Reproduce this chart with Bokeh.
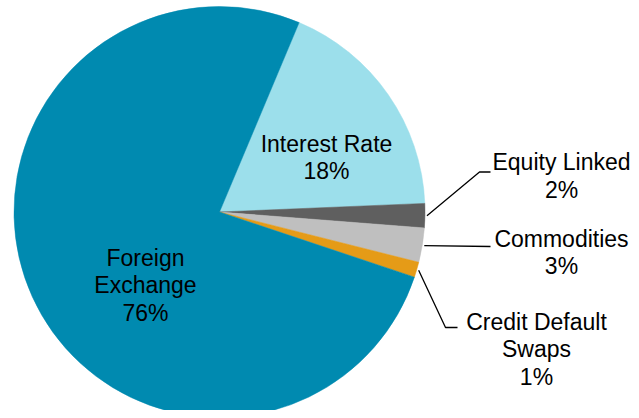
import math
from bokeh.plotting import figure
from bokeh.models import Range1d, ColumnDataSource
from bokeh.core.properties import value
from bokeh.embed import file_html
from bokeh.resources import INLINE

# ---- data ----
categories = ["Interest Rate", "Equity Linked", "Commodities", "Credit Default\nSwaps", "Foreign\nExchange"]
shares = [18.0, 1.9, 2.7, 1.2, 76.2]
colors = ["#9CDFEB", "#5F5F5F", "#BFBFBF", "#E59B17", "#008AB0"]

# ---- layout (pixel coordinates of the picture, y downward) ----
W, H = 631, 410
CX, CY, R = 219, 211.5, 205.5
START_DEG = 22.8  # clockwise from 12 o'clock, where first slice begins

def to_data_y(py):
    return 418 - py

p = figure(width=W, height=H, output_backend="svg", toolbar_location=None,
           x_range=Range1d(0, W), y_range=Range1d(418 - H, 418),
           min_border=0, outline_line_color=None)
p.axis.visible = False
p.grid.visible = False
p.background_fill_color = "white"
p.border_fill_color = "white"

total = sum(shares)
starts, ends, mids = [], [], []
theta = START_DEG
for v in shares:
    span = v / total * 360.0
    starts.append(theta)
    ends.append(theta + span)
    mids.append(theta + span / 2)
    theta += span

src = ColumnDataSource(dict(
    start=[math.radians(90 - s) for s in starts],
    end=[math.radians(90 - e) for e in ends],
    color=colors,
    cat=categories,
))
p.wedge(x=CX, y=to_data_y(CY), radius=R, start_angle="start", end_angle="end",
        direction="clock", fill_color="color", line_color="color", line_width=0.5,
        source=src)

pct = [f"{round(v / total * 100)}%" for v in shares]
labels = [c + "\n" + q for c, q in zip(categories, pct)]

# label block centres (picture coords)
label_pos = {
    0: (326, 157),
    1: (561, 175.5),
    2: (561, 252),
    3: (536, 349),
    4: (145, 285),
}
lx = [label_pos[i][0] for i in range(len(labels))]
ly = [to_data_y(label_pos[i][1]) for i in range(len(labels))]
p.text(x=lx, y=ly, text=labels, text_align="center", text_baseline="middle",
       text_font=value("Liberation Sans"), text_font_size="23px",
       text_color="#000000", text_line_height=1.04)

# leader lines for small slices: start just outside the rim at slice mid-angle
elbows = {
    1: [(479, 171.5), (490, 171.5)],
    2: [(490, 246)],
    3: [(445, 327), (457, 327)],
}
for i, pts in elbows.items():
    a = math.radians(mids[i])
    sx = CX + (R + 2) * math.sin(a)
    sy = CY - (R + 2) * math.cos(a)
    xs = [sx] + [q[0] for q in pts]
    ys = [to_data_y(sy)] + [to_data_y(q[1]) for q in pts]
    p.line(xs, ys, line_color="#000000", line_width=1.3)

open("out.html", "w").write(file_html(p, INLINE))
